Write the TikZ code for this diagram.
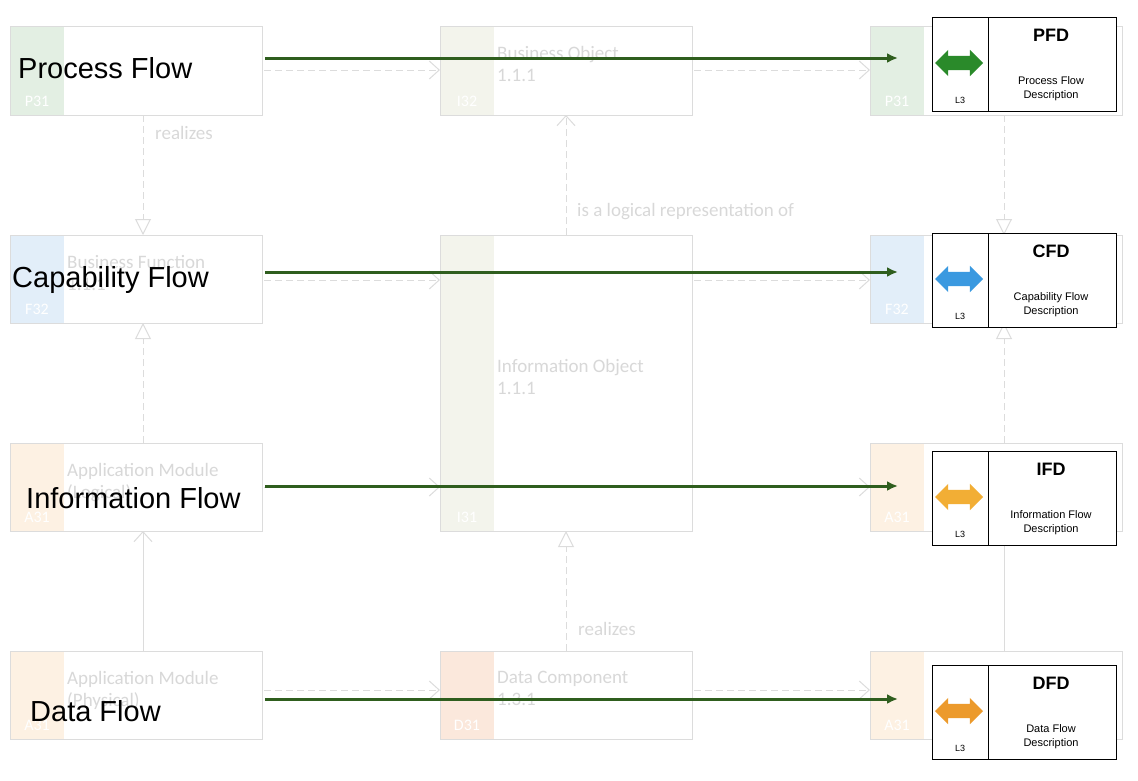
\documentclass[tikz,border=0pt]{standalone}
\usepackage{fontspec}
\setmainfont{Liberation Sans}
\newfontfamily\fade{Carlito}
\usetikzlibrary{shapes.arrows,arrows.meta}
\definecolor{fl}{HTML}{2F5E1E}
\definecolor{fg}{HTML}{DCDCDC}
\definecolor{ft}{HTML}{D8D8D8}
\definecolor{cP}{HTML}{E3EFE3}
\definecolor{cF}{HTML}{E2EEF9}
\definecolor{cA}{HTML}{FDF1E3}
\definecolor{cI}{HTML}{F3F4EC}
\definecolor{cD}{HTML}{FBE8DC}
\definecolor{cb}{HTML}{3A99E0}
\definecolor{cg}{HTML}{2A8A2A}
\definecolor{co}{HTML}{F2AE35}
\definecolor{cd}{HTML}{EC9A2C}
\begin{document}
\begin{tikzpicture}[x=1pt,y=-1pt,
  ebox/.style={draw=fg,line width=1pt,fill=white},
  etext/.style={font=\fade\fontsize{19}{22}\selectfont,text=ft,anchor=north west,align=left,inner sep=0pt},
  stag/.style={font=\fade\fontsize{16}{18}\selectfont,text=white,inner sep=0pt},
  rel/.style={draw=fg,line width=1pt},
  dsh/.style={rel,dash pattern=on 7pt off 4pt},
  oa/.style={-{Straight Barb[length=10pt,width=18pt]}},
  tri/.style={-{Triangle[open,length=16pt,width=16pt,fill=white]}},
  flow/.style={draw=fl,line width=3pt,-{Latex[length=11pt,width=10pt]}},
  big/.style={font=\fontsize{29}{32}\selectfont,anchor=west,inner sep=0pt},
  card/.style={draw=black,line width=1pt,fill=white},
  dbl/.style={double arrow,minimum height=48pt,inner xsep=0pt,inner ysep=7pt,double arrow head extend=6pt,draw=none}
]
\useasboundingbox (0,0) rectangle (1138,780);
% element boxes
\foreach \n/\x/\y/\h/\c/\t in {p1/10/26/89/cP/P31,f1/10/235/88/cF/F32,a1/10/443/88/cA/A31,a2/10/651/88/cA/A31,
  bo/440/26/89/cI/I32,io/440/235/296/cI/I31,dc/440/651/88/cD/D31,
  p3/870/26/89/cP/P31,f3/870/235/88/cF/F32,a3/870/443/88/cA/A31,a4/870/651/88/cA/A31}{
  \draw[ebox] (\x,\y) rectangle ++(252,\h);
  \fill[\c] (\x+0.5,\y+0.5) rectangle ++(53,\h-1);
  \draw[fg,line width=1pt] (\x,\y) rectangle ++(252,\h);
  \node[stag] (\n t) at (\x+27,\y+\h-14) {\t};
}
\node[etext] (bot) at (497,46) {Business Object\\1.1.1};
\node[etext] (bft) at (67,255) {Business Function\\1.1.1};
\node[etext] (iot) at (497,359) {Information Object\\1.1.1};
\node[etext] (amt) at (67,463) {Application Module\\(Logical)};
\node[etext] (amp) at (67,671) {Application Module\\(Physical)};
\node[etext] (dct) at (497,671) {Data Component\\1.3.1};
% horizontal relations
\foreach \y in {70,280,487,690}{
  \coordinate (l\y) at (264,\y); \coordinate (m\y) at (440,\y);
  \coordinate (n\y) at (694,\y); \coordinate (r\y) at (870,\y);
  \draw[dsh,oa] (l\y) -- (m\y);
  \draw[dsh,oa] (n\y) -- (r\y);
}
% vertical relations
\coordinate (v1a) at (143,115); \coordinate (v1b) at (143,235);
\coordinate (v2a) at (143,443); \coordinate (v2b) at (143,323);
\coordinate (v3a) at (143,651); \coordinate (v3b) at (143,531);
\draw[dsh,tri] (v1a) -- (v1b);
\draw[dsh,tri] (v2a) -- (v2b);
\draw[rel,oa] (v3a) -- (v3b);
\coordinate (w1a) at (566,235); \coordinate (w1b) at (566,115);
\coordinate (w2a) at (566,651); \coordinate (w2b) at (566,531);
\draw[dsh,oa] (w1a) -- (w1b);
\draw[dsh,tri] (w2a) -- (w2b);
\coordinate (u1a) at (1004,115); \coordinate (u1b) at (1004,235);
\coordinate (u2a) at (1004,443); \coordinate (u2b) at (1004,323);
\coordinate (u3a) at (1004,651); \coordinate (u3b) at (1004,531);
\draw[dsh,tri] (u1a) -- (u1b);
\draw[dsh,tri] (u2a) -- (u2b);
\draw[rel,oa] (u3a) -- (u3b);
\node[etext] (rl1) at (155,126) {realizes};
\node[etext] (rl2) at (577,203) {is a logical representation of};
\node[etext] (rl3) at (578,622) {realizes};
% overlay labels
\node[big] (pf) at (18,68) {Process Flow};
\node[big] (cf) at (12,280) {Capability Flow};
\node[big] (if) at (26,498) {Information Flow};
\node[big] (df) at (30,711) {Data Flow};
% cards
\foreach \n/\y/\t/\a/\b/\c in {pfd/17/PFD/Process Flow/Description/cg,
  cfd/233/CFD/Capability Flow/Description/cb,
  ifd/451/IFD/Information Flow/Description/co,
  dfd/665/DFD/Data Flow/Description/cd}{
  \draw[card] (932,\y) rectangle (1116,\y+94);
  \draw[black,line width=1pt] (988,\y) -- (988,\y+94);
  \node[dbl,fill=\c] (\n i) at (959,\y+46) {};
  \node[font=\fontsize{9}{10}\selectfont] (\n l) at (960,\y+83) {L3};
  \node[font=\bfseries\fontsize{18}{20}\selectfont] (\n h) at (1051,\y+18) {\t};
  \node[font=\fontsize{11}{14}\selectfont,align=center] (\n d) at (1051,\y+72) {\a\\\b};
}
% flows
\coordinate (s1) at (265,58); \coordinate (e1) at (898,58);
\coordinate (s2) at (265,272); \coordinate (e2) at (898,272);
\coordinate (s3) at (265,486); \coordinate (e3) at (898,486);
\coordinate (s4) at (265,699); \coordinate (e4) at (898,699);
\draw[flow] (s1) -- (e1);
\draw[flow] (s2) -- (e2);
\draw[flow] (s3) -- (e3);
\draw[flow] (s4) -- (e4);
\end{tikzpicture}
\end{document}
